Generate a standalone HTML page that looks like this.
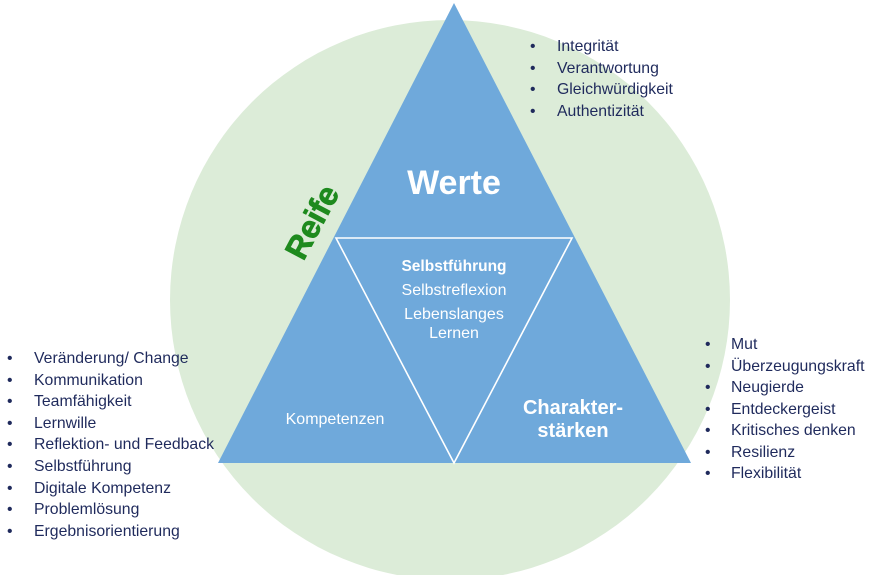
<!DOCTYPE html>
<html><head><meta charset="utf-8"><style>
html,body{margin:0;padding:0;background:#fff;}
svg{display:block;}
text{font-family:"Liberation Sans",sans-serif;}
.l{font-size:15.8px;fill:#1f2a5c;}
</style></head><body>
<svg width="883" height="575" viewBox="0 0 883 575" xmlns="http://www.w3.org/2000/svg">
<circle cx="450" cy="300" r="280" fill="#dcecd8"/>
<polygon points="454,3 218,463 691,463" fill="#6fa9db"/>
<polygon points="336,238 572,238 454,463" fill="none" stroke="#fff" stroke-width="1.6" stroke-linejoin="miter"/>
<text x="454" y="194" text-anchor="middle" font-size="34" font-weight="bold" fill="#fff">Werte</text>
<text x="312" y="233" text-anchor="middle" font-size="32" font-weight="bold" fill="#1e8a1e" stroke="#1e8a1e" stroke-width="0.8" transform="rotate(-62 312 222)">Reife</text>
<g fill="#fff" text-anchor="middle" font-size="16">
<text x="454" y="271" font-weight="bold" font-size="15.5">Selbstführung</text>
<text x="454" y="295">Selbstreflexion</text>
<text x="454" y="319">Lebenslanges</text>
<text x="454" y="338">Lernen</text>
<text x="335" y="424">Kompetenzen</text>
<text x="573" y="414" font-size="20" font-weight="bold">Charakter-</text>
<text x="573" y="437" font-size="20" font-weight="bold">stärken</text>
</g>
<g class="l">
<text x="530" y="51">•</text><text x="557" y="51">Integrität</text>
<text x="530" y="73">•</text><text x="557" y="73">Verantwortung</text>
<text x="530" y="94">•</text><text x="557" y="94">Gleichwürdigkeit</text>
<text x="530" y="116">•</text><text x="557" y="116">Authentizität</text>

<text x="7" y="363">•</text><text x="34" y="363">Veränderung/ Change</text>
<text x="7" y="385">•</text><text x="34" y="385">Kommunikation</text>
<text x="7" y="406">•</text><text x="34" y="406">Teamfähigkeit</text>
<text x="7" y="428">•</text><text x="34" y="428">Lernwille</text>
<text x="7" y="449">•</text><text x="34" y="449">Reflektion- und Feedback</text>
<text x="7" y="471">•</text><text x="34" y="471">Selbstführung</text>
<text x="7" y="493">•</text><text x="34" y="493">Digitale Kompetenz</text>
<text x="7" y="514">•</text><text x="34" y="514">Problemlösung</text>
<text x="7" y="536">•</text><text x="34" y="536">Ergebnisorientierung</text>

<text x="705" y="349">•</text><text x="731" y="349">Mut</text>
<text x="705" y="371">•</text><text x="731" y="371">Überzeugungskraft</text>
<text x="705" y="392">•</text><text x="731" y="392">Neugierde</text>
<text x="705" y="414">•</text><text x="731" y="414">Entdeckergeist</text>
<text x="705" y="435">•</text><text x="731" y="435">Kritisches denken</text>
<text x="705" y="457">•</text><text x="731" y="457">Resilienz</text>
<text x="705" y="478">•</text><text x="731" y="478">Flexibilität</text>
</g>
</svg>
</body></html>
